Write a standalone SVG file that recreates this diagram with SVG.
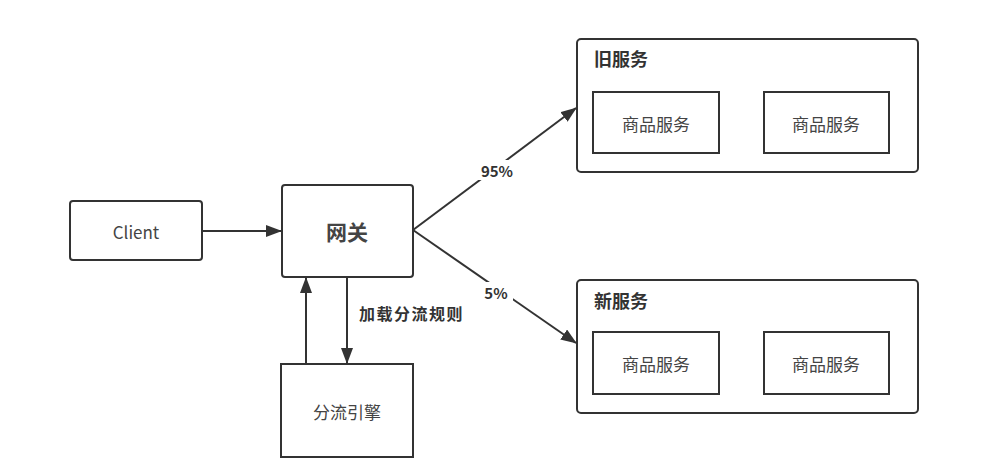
<svg xmlns="http://www.w3.org/2000/svg" width="988" height="473" viewBox="0 0 988 473">
<defs>
<style>
.box{fill:#fff;stroke:#333;stroke-width:2}
.t{font-family:"Noto Sans CJK SC","Noto Sans",sans-serif;fill:#444;text-anchor:middle;dominant-baseline:central}
.c{stroke:#333;stroke-width:2;fill:none;marker-end:url(#ah)}
.lbl{font-family:"Noto Sans CJK SC","Noto Sans",sans-serif;font-weight:bold;font-size:15px;fill:#333;text-anchor:middle;dominant-baseline:central}
.ttl{font-family:"Noto Sans CJK SC",sans-serif;font-size:18px;font-weight:bold;fill:#333;dominant-baseline:central}
</style>
<marker id="ah" viewBox="0 0 16 12" refX="15" refY="6" markerWidth="8" markerHeight="6" orient="auto" markerUnits="strokeWidth">
<path d="M0,0 L16,6 L0,12 z" fill="#333"/>
</marker>
</defs>
<rect width="988" height="473" fill="#fff"/>
<g id="client"><rect class="box" x="70" y="201" width="132" height="59" rx="3"/><text class="t" x="136" y="231" font-size="17">Client</text></g>
<g id="gateway"><rect class="box" x="282" y="185" width="131" height="92" rx="3"/><text class="t" x="347" y="231" font-size="21" font-weight="bold" fill="#333">网关</text></g>
<g id="engine"><rect class="box" x="281" y="364" width="132" height="93"/><text class="t" x="347" y="411" font-size="17">分流引擎</text></g>
<g id="old"><rect class="box" x="577" y="39" width="341" height="133" rx="4"/><text class="ttl" x="594" y="58">旧服务</text>
<rect class="box" x="593" y="92" width="126" height="61"/><text class="t" x="656" y="123" font-size="17">商品服务</text>
<rect class="box" x="764" y="92" width="125" height="61"/><text class="t" x="826" y="123" font-size="17">商品服务</text></g>
<g id="new"><rect class="box" x="577" y="280" width="341" height="133" rx="4"/><text class="ttl" x="594" y="300">新服务</text>
<rect class="box" x="593" y="332" width="126" height="62"/><text class="t" x="656" y="363" font-size="17">商品服务</text>
<rect class="box" x="764" y="332" width="125" height="62"/><text class="t" x="826" y="363" font-size="17">商品服务</text></g>
<g id="connectors">
<line class="c" x1="202" y1="231" x2="281" y2="231"/>
<line class="c" x1="347" y1="277" x2="347" y2="363"/>
<line class="c" x1="306" y1="364" x2="306" y2="278"/>
<line class="c" x1="413" y1="230" x2="576" y2="108"/>
<line class="c" x1="413" y1="230" x2="576" y2="343"/>
<rect x="476" y="160" width="42" height="20" fill="#fff"/>
<text class="lbl" x="497" y="170">95%</text>
<rect x="479" y="282" width="34" height="20" fill="#fff"/>
<text class="lbl" x="496" y="292">5%</text>
<text x="359" y="313" font-family="Noto Sans CJK SC,sans-serif" font-size="16" font-weight="bold" letter-spacing="1.5" fill="#333" dominant-baseline="central">加载分流规则</text>
</g>
</svg>
